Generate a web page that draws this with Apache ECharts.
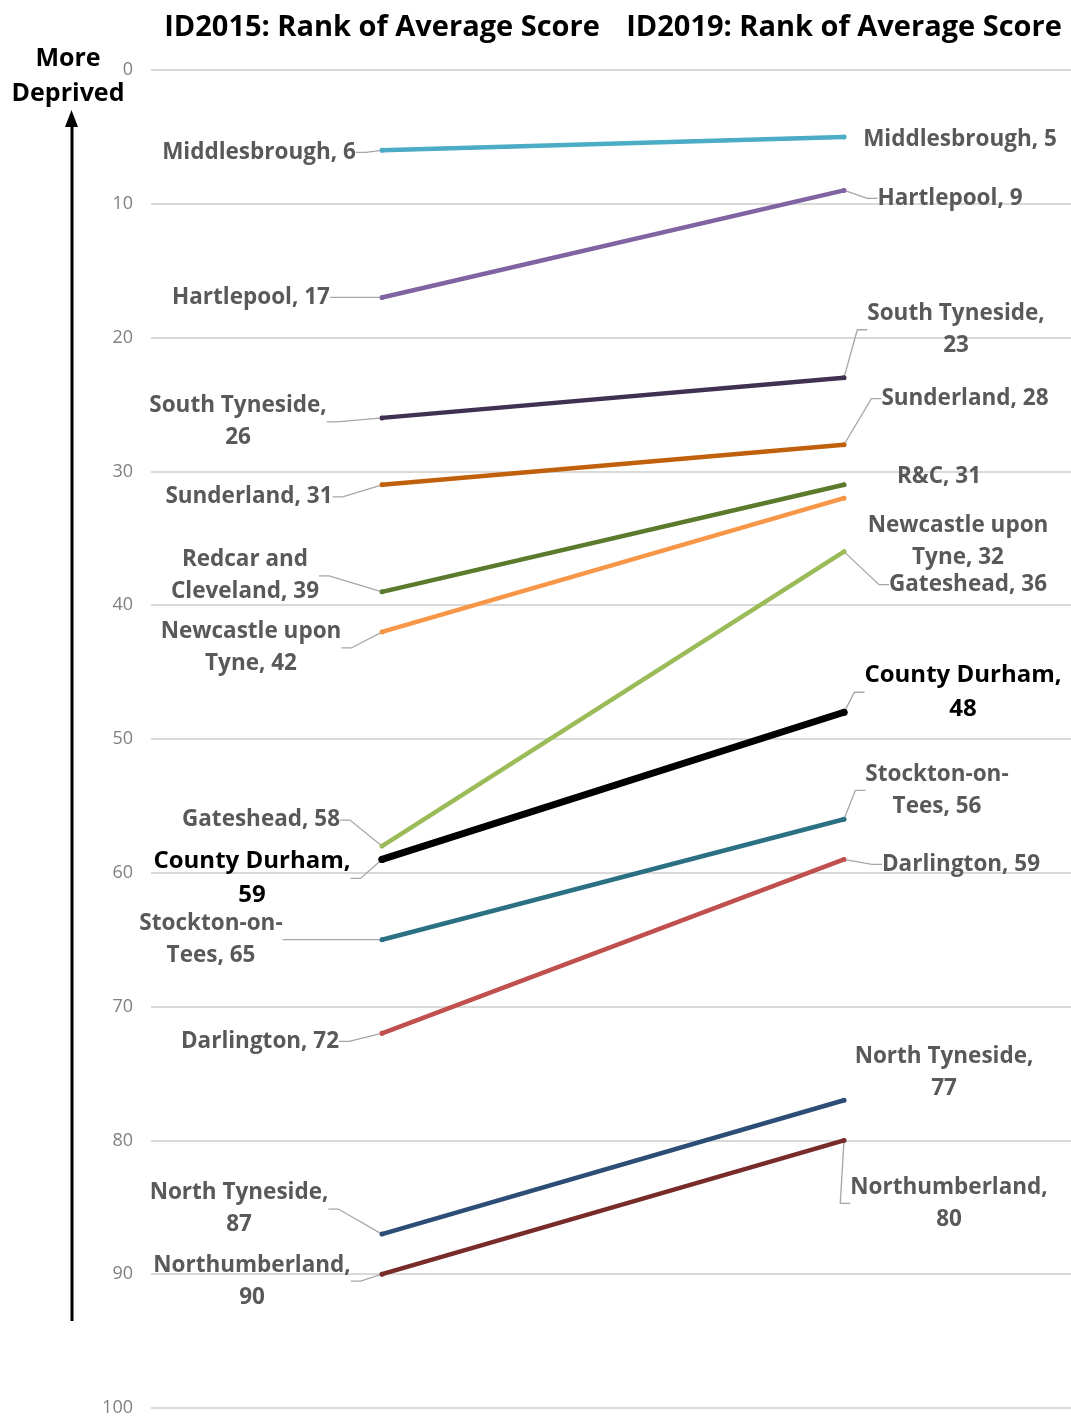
<!DOCTYPE html>
<html>
<head>
<meta charset="utf-8">
<title>Rank of Average Score: ID2015 vs ID2019</title>
<script src="https://cdn.jsdelivr.net/npm/echarts@6/dist/echarts.min.js"></script>
<style>
  html, body { margin: 0; padding: 0; background: #fff; overflow: hidden; }
  #chart { width: 1071px; height: 1416px; }
</style>
</head>
<body>
<div id="chart"></div>
<script>
// Local authority areas and their rank of average score (1 = most deprived)
const areas = ['Middlesbrough', 'Hartlepool', 'South Tyneside', 'Sunderland', 'Redcar and Cleveland',
  'Newcastle upon Tyne', 'Gateshead', 'County Durham', 'Stockton-on-Tees', 'Darlington',
  'North Tyneside', 'Northumberland'];
const rank2015 = [6, 17, 26, 31, 39, 42, 58, 59, 65, 72, 87, 90];
const rank2019 = [5, 9, 23, 28, 31, 32, 36, 48, 56, 59, 77, 80];
const names2015 = ['Middlesbrough', 'Hartlepool', 'South Tyneside', 'Sunderland', 'Redcar and\nCleveland',
  'Newcastle upon\nTyne', 'Gateshead', 'County Durham', 'Stockton-on-\nTees', 'Darlington',
  'North Tyneside', 'Northumberland'];
const names2019 = ['Middlesbrough', 'Hartlepool', 'South Tyneside', 'Sunderland', 'R&C',
  'Newcastle upon\nTyne', 'Gateshead', 'County Durham', 'Stockton-on-\nTees', 'Darlington',
  'North Tyneside', 'Northumberland'];
const columnTitles = ['ID2015: Rank of Average Score', 'ID2019: Rank of Average Score'];
const rankTicks = [0, 10, 20, 30, 40, 50, 60, 70, 80, 90, 100];

// Styling and label placement
const colors = ['#4BACC6', '#8064A2', '#403152', '#C0600C', '#5B7A2C', '#F79646',
  '#9BBB59', '#000000', '#2B7083', '#C0504D', '#2C4D75', '#772C2A'];
const highlight = 'County Durham';
// [dx, dy, wrapAfterComma, showLeader] of each label centre from its point
const place2015 = [
  [-123, 0, false, true], [-131, -2, false, true], [-144, 2, true, true], [-133, 10, false, true],
  [-137, -18, false, true], [-131, 14, false, true], [-121, -28, false, true], [-130, 17, true, true],
  [-171, -2, false, true], [-122, 6, false, true], [-143, -27, true, true], [-130, 5, true, true]
];
const place2019 = [
  [116, 1, false, false], [106, 6, false, true], [112, -50, true, true], [121, -48, false, true],
  [95, -10, false, false], [114, 41, false, false], [124, 31, false, true], [119, -22, true, true],
  [93, -31, false, true], [117, 3, false, true], [100, -30, true, false], [105, 61, true, true]
];
const X2015 = 1, X2019 = 3;
const TEXT_NUDGE_Y = 2;

const FONT = '"Open Sans", "Noto Sans", sans-serif';

const series = areas.map((area, i) => {
  const isHi = area === highlight;
  const places = [place2015[i], place2019[i]];
  const names = [names2015[i], names2019[i]];
  const mkItem = (x, v, k) => ({
    value: [x, v],
    label: {
      formatter: names[k] + ',' + (places[k][2] ? '\n' : ' ') + v
    },
    labelLine: { show: places[k][3] }
  });
  return {
    name: area,
    type: 'line',
    data: [mkItem(X2015, rank2015[i], 0), mkItem(X2019, rank2019[i], 1)],
    symbol: 'circle',
    symbolSize: isHi ? 7 : 5,
    showSymbol: true,
    itemStyle: { color: colors[i] },
    lineStyle: { color: colors[i], width: isHi ? 7 : 4.5, cap: 'round' },
    z: isHi ? 5 : 3,
    animation: false,
    label: {
      show: true,
      position: 'inside',
      fontFamily: FONT,
      fontWeight: 'bold',
      fontSize: isHi ? 24 : 22.5,
      lineHeight: isHi ? 34 : 32,
      color: isHi ? '#000000' : '#595959',
      align: 'center'
    },
    labelLine: {
      show: true,
      length2: 10,
      lineStyle: { color: '#A6A6A6', width: 1.3 }
    },
    labelLayout: function (p) {
      const pl = p.dataIndex === 0 ? place2015[i] : place2019[i];
      return {
        x: p.rect.x + p.rect.width / 2 + pl[0],
        y: p.rect.y + p.rect.height / 2 + pl[1] + TEXT_NUDGE_Y,
        align: 'center',
        verticalAlign: 'middle'
      };
    }
  };
});

const chart = echarts.init(document.getElementById('chart'), null, { renderer: 'canvas' });
chart.setOption({
  backgroundColor: '#ffffff',
  animation: false,
  grid: { left: 151, width: 924, top: 70, height: 1338, containLabel: false, outerBoundsMode: 'none' },
  xAxis: {
    type: 'value',
    position: 'top',
    min: 0,
    max: 4,
    interval: 1,
    axisLine: { show: false },
    axisTick: { show: false },
    splitLine: { show: false },
    axisLabel: {
      margin: 28,
      fontFamily: FONT,
      fontWeight: 'bold',
      fontSize: 29,
      color: '#000000',
      formatter: v => (v === X2015 ? columnTitles[0] : v === X2019 ? columnTitles[1] : '')
    }
  },
  yAxis: {
    type: 'value',
    inverse: true,
    min: rankTicks[0],
    max: rankTicks[rankTicks.length - 1],
    interval: rankTicks[1] - rankTicks[0],
    axisLine: { show: false },
    axisTick: { show: false },
    splitLine: { show: true, lineStyle: { color: '#D9D9D9', width: 2 } },
    axisLabel: {
      margin: 18,
      fontFamily: FONT,
      fontSize: 18,
      color: '#808080'
    }
  },
  graphic: [
    {
      type: 'text',
      x: 68, y: 76,
      style: {
        text: 'More\nDeprived',
        font: 'bold 25px ' + FONT,
        lineHeight: 35,
        fill: '#000000',
        textAlign: 'center',
        textVerticalAlign: 'middle'
      }
    },
    {
      type: 'line',
      shape: { x1: 72, y1: 1321, x2: 72, y2: 122 },
      style: { stroke: '#000000', lineWidth: 3 }
    },
    {
      type: 'polygon',
      shape: { points: [[71.5, 110], [65, 127], [78, 127]] },
      style: { fill: '#000000' }
    }
  ],
  series: series
});
</script>
</body>
</html>
